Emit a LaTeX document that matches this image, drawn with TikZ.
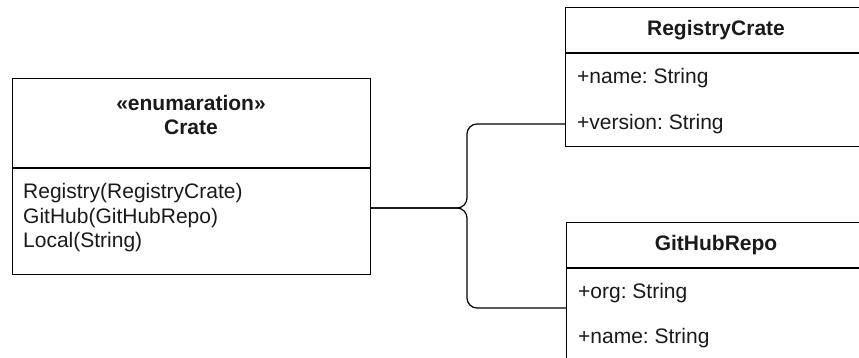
\documentclass[tikz,border=0pt]{standalone}
\usepackage{fontspec}
\setmainfont{Liberation Sans}
\frenchspacing
\usetikzlibrary{positioning, calc}
\definecolor{LineBlack}{HTML}{000000}
\definecolor{TextGrey}{HTML}{1A1A1A}
\tikzset{
  classbox/.style={rectangle, draw=LineBlack, line width=1.2pt, fill=white, anchor=north west, inner sep=0pt},
  titletext/.style={font=\fontsize{21}{24}\selectfont\bfseries, align=center, text=TextGrey},
  membertext/.style={font=\fontsize{21}{24.5}\selectfont, align=left, anchor=west, text=TextGrey, inner sep=0pt},
  divider/.style={draw=LineBlack, line width=1.2pt},
  link/.style={draw=LineBlack, line width=1.2pt, rounded corners=10pt}
}

\begin{document}
\begin{tikzpicture}[x=1pt, y=-1pt]
  \useasboundingbox (0,0) rectangle (859,358);
  \clip (0,0) rectangle (859,358);

  % enumeration
  \node[classbox, minimum width=358pt, minimum height=196pt] (crate) at (12,78) {};
  \draw[divider] (crate.west |- 0,168) -- (crate.east |- 0,168);
  \node[titletext] (cratetitle) at (191,115) {«enumaration»\\Crate};
  \node[membertext] (cratevariants) at (23,218) {Registry(RegistryCrate)\\GitHub(GitHubRepo)\\Local(String)};

  % registry crate
  \node[classbox, minimum width=302pt, minimum height=139pt] (regbox) at (565,7) {};
  \draw[divider] (regbox.west |- 0,53) -- (regbox.east |- 0,53);
  \node[titletext] (regtitle) at (716,30) {RegistryCrate};
  \node[membertext] (regname) at (577,78) {+name: String};
  \node[membertext] (regversion) at (577,124) {+version: String};

  % github repo
  \node[classbox, minimum width=302pt, minimum height=139pt] (ghbox) at (566,222) {};
  \draw[divider] (ghbox.west |- 0,268) -- (ghbox.east |- 0,268);
  \node[titletext] (ghtitle) at (716,245) {GitHubRepo};
  \node[membertext] (ghorg) at (578,293) {+org: String};
  \node[membertext] (ghname) at (578,338) {+name: String};

  \coordinate (fork) at (467,208);
  \coordinate (ghin) at (566,308);

  \draw[link] (crate.east |- fork) -- (fork) |- (regbox.west |- regversion);
  \draw[link] (crate.east |- fork) -- (fork) |- (ghin);
\end{tikzpicture}
\end{document}
